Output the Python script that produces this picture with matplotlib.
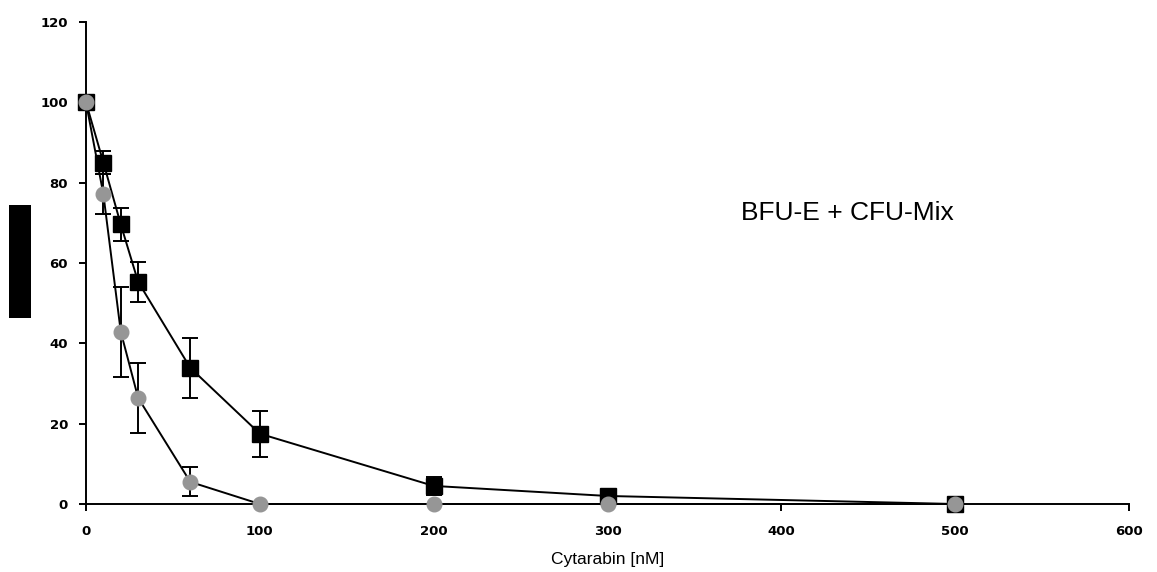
import matplotlib
matplotlib.use("Agg")
import matplotlib.pyplot as plt
from matplotlib.patches import Rectangle

plt.rcParams['font.family'] = ['Liberation Sans', 'DejaVu Sans']

# Data
conc_sq = [0, 10, 20, 30, 60, 100, 200, 300, 500]
vals_sq = [100, 85, 69.6, 55.3, 33.9, 17.5, 4.5, 2.0, 0]
err_sq = [0, 2.9, 4.0, 5.0, 7.5, 5.7, 2.3, 1.0, 0]

conc_ci = [0, 10, 20, 30, 60, 100, 200, 300, 500]
vals_ci = [100, 77.1, 42.9, 26.4, 5.5, 0, 0, 0, 0]
err_ci = [0, 5.0, 11.2, 8.7, 3.6, 0, 0, 0, 0]

xticks = [0, 100, 200, 300, 400, 500, 600]
yticks = [0, 20, 40, 60, 80, 100, 120]
xlabel = "Cytarabin [nM]"
annotation = "BFU-E + CFU-Mix"

fig = plt.figure(figsize=(11.57, 5.72), dpi=100)
ax = fig.add_axes([86/1157, 1-504/572, (1129-86)/1157, (504-22)/572])

ax.errorbar(conc_sq, vals_sq, yerr=err_sq, color='black', lw=1.4, marker='s',
            markersize=11.5, markerfacecolor='black', markeredgecolor='black',
            ecolor='black', elinewidth=1.4, capsize=6, capthick=1.4,
            clip_on=False, zorder=3)
ax.errorbar(conc_ci, vals_ci, yerr=err_ci, color='black', lw=1.4, marker='o',
            markersize=10.5, markerfacecolor='#969696', markeredgecolor='#969696',
            ecolor='black', elinewidth=1.4, capsize=6, capthick=1.4,
            clip_on=False, zorder=4)

ax.set_xlim(0, 600)
ax.set_ylim(0, 120)
ax.set_xticks(xticks)
ax.set_yticks(yticks)
tick_font = dict(fontweight='bold', fontsize=9.5, family='DejaVu Sans')
ax.set_xticklabels([str(t) for t in xticks], **tick_font)
ax.set_yticklabels([str(t) for t in yticks], **tick_font)
for s in ['top', 'right']:
    ax.spines[s].set_visible(False)
for s in ['left', 'bottom']:
    ax.spines[s].set_linewidth(1.4)
ax.tick_params(axis='x', direction='out', length=5, width=1.4, pad=10)
ax.tick_params(axis='y', direction='out', length=5, width=1.4, pad=8)

ax.set_xlabel(xlabel, fontsize=12.5, labelpad=10)
ax.text(377, 72.5, annotation, fontsize=19, ha='left', va='center')

fig.patches.append(Rectangle((9/1157, 1-318/572), 22/1157, 113/572,
                             transform=fig.transFigure, facecolor='black',
                             edgecolor='none'))

fig.savefig("out.png", dpi=100)
